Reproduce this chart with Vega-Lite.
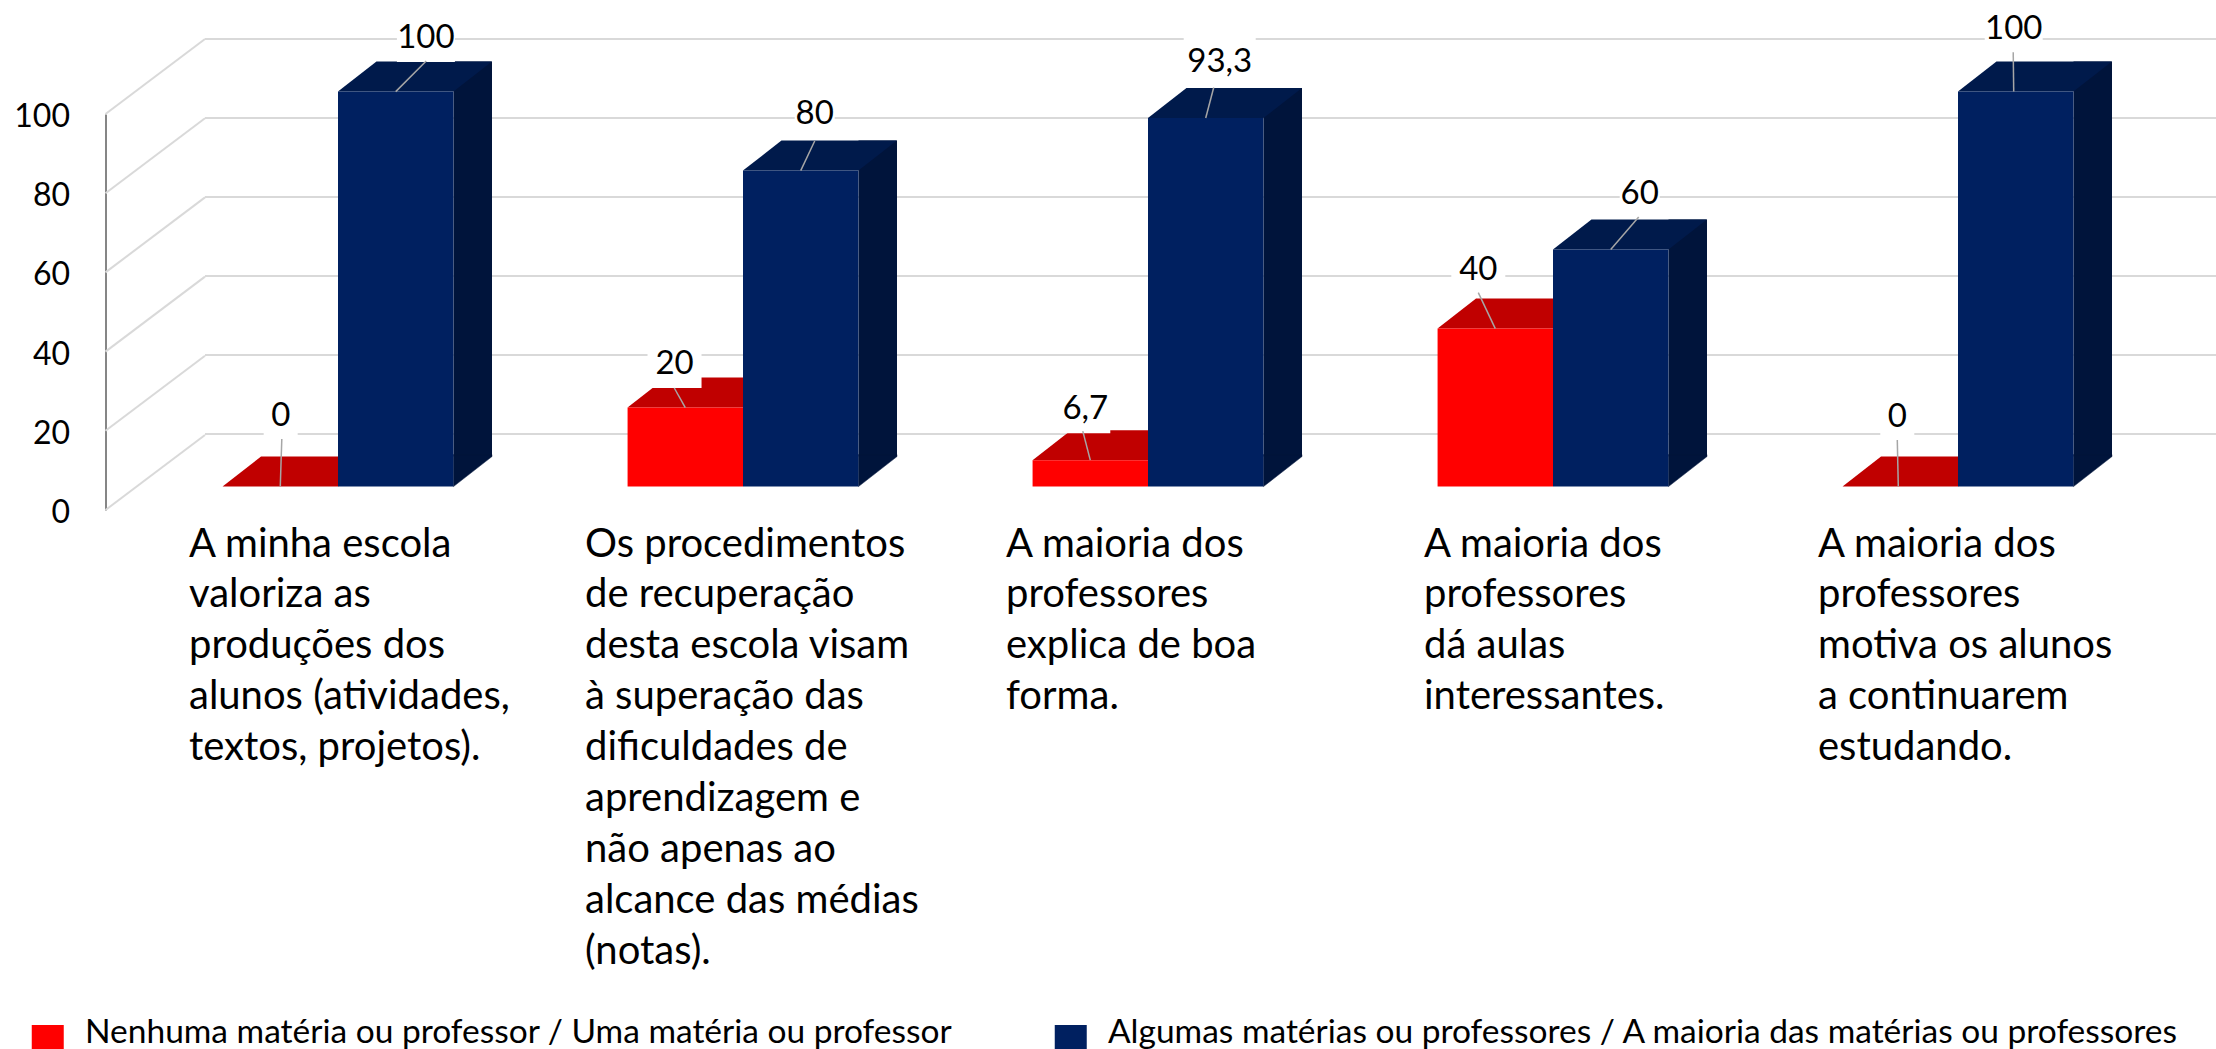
{
"$schema":"https://vega.github.io/schema/vega-lite/v6.json",
"width":2011,"height":1049,"autosize":{"type":"none"},"padding":{"left":205,"top":0,"right":0,"bottom":0},
"background":"white",
"config":{"view":{"stroke":null},"font":"Lato"},
"datasets":{
"marcas":[{"t":0},{"t":20},{"t":40},{"t":60},{"t":80},{"t":100}],
"dados":[
{"item":"P1N","pergunta":"A minha escola\nvaloriza as\nproduções dos\nalunos (atividades,\ntextos, projetos).","serie":"Nenhuma matéria ou professor / Uma matéria ou professor","valor":0,"rotulo":"0"},
{"item":"P2N","pergunta":"Os procedimentos\nde recuperação\ndesta escola visam\nà superação das\ndificuldades de\naprendizagem e\nnão apenas ao\nalcance das médias\n(notas).","serie":"Nenhuma matéria ou professor / Uma matéria ou professor","valor":20,"rotulo":"20"},
{"item":"P3N","pergunta":"A maioria dos\nprofessores\nexplica de boa\nforma.","serie":"Nenhuma matéria ou professor / Uma matéria ou professor","valor":6.7,"rotulo":"6,7"},
{"item":"P4N","pergunta":"A maioria dos\nprofessores\ndá aulas\ninteressantes.","serie":"Nenhuma matéria ou professor / Uma matéria ou professor","valor":40,"rotulo":"40"},
{"item":"P5N","pergunta":"A maioria dos\nprofessores\nmotiva os alunos\na continuarem\nestudando.","serie":"Nenhuma matéria ou professor / Uma matéria ou professor","valor":0,"rotulo":"0"},
{"item":"P1A","pergunta":"A minha escola\nvaloriza as\nproduções dos\nalunos (atividades,\ntextos, projetos).","serie":"Algumas matérias ou professores / A maioria das matérias ou professores","valor":100,"rotulo":"100"},
{"item":"P2A","pergunta":"Os procedimentos\nde recuperação\ndesta escola visam\nà superação das\ndificuldades de\naprendizagem e\nnão apenas ao\nalcance das médias\n(notas).","serie":"Algumas matérias ou professores / A maioria das matérias ou professores","valor":80,"rotulo":"80"},
{"item":"P3A","pergunta":"A maioria dos\nprofessores\nexplica de boa\nforma.","serie":"Algumas matérias ou professores / A maioria das matérias ou professores","valor":93.3,"rotulo":"93,3"},
{"item":"P4A","pergunta":"A maioria dos\nprofessores\ndá aulas\ninteressantes.","serie":"Algumas matérias ou professores / A maioria das matérias ou professores","valor":60,"rotulo":"60"},
{"item":"P5A","pergunta":"A maioria dos\nprofessores\nmotiva os alunos\na continuarem\nestudando.","serie":"Algumas matérias ou professores / A maioria das matérias ou professores","valor":100,"rotulo":"100"}
]},
"resolve":{"scale":{"y":"independent"}},
"layer":[
{"data":{"name":"marcas"},"mark":{"type":"rule","color":"#d9d9d9","strokeWidth":2},
 "encoding":{"y":{"field":"t","type":"quantitative","axis":null,"scale":{"domain":[0,100],"range":[434,39],"nice":false}}}},
{"data":{"name":"marcas"},"mark":{"type":"point","filled":false,"shape":"M0,0L99.5,-75","size":4,"stroke":"#d9d9d9","strokeWidth":2,"opacity":1},
 "encoding":{"x":{"value":-99.5},
  "y":{"field":"t","type":"quantitative","title":null,
   "scale":{"domain":[0,100],"range":[510,114],"nice":false},
   "axis":{"offset":99.5,"grid":false,"ticks":false,"domain":true,"domainColor":"#868686","domainWidth":2,"values":[0,20,40,60,80,100],"labelFont":"Lato","labelFontSize":32,"labelColor":"#000000","labelPadding":36,"labelOffset":2.5,"labelBaseline":"middle"}}}},
{"data":{"name":"dados"},
 "transform":[{"filter":{"field":"serie","equal":"Algumas matérias ou professores / A maioria das matérias ou professores"}}],
 "mark":{"type":"bar","xOffset":134.75,"width":38.5,"fill":"#00143B"},
 "encoding":{
  "x":{"field":"pergunta","type":"nominal","sort":null,"title":null,
   "scale":{"type":"band","range":[-69.5,1955.5],"paddingInner":0.43,"paddingOuter":0.215},
   "axis":{"orient":"bottom","offset":-525,"domain":false,"ticks":false,"grid":false,"labelAngle":0,"labelAlign":"left","labelBaseline":"top","labelFont":"Lato","labelFontSize":40,"labelColor":"#000000","labelLineHeight":50.9,"labelLimit":0,"labelOverlap":false,"labelBound":false,"labelFlush":false,"labelPadding":0,
     "labelExpr":"split(datum.label,'\\n')",
     "encoding":{"labels":{"dx":{"value":{"expr":"[-149,-158,-142,-129,-140][round(datum.index*4)]"}}}}}},
  "y":{"field":"valor","type":"quantitative","axis":null,"scale":{"domain":[0,100],"range":[456.6,61.6],"nice":false}}
 }},
{"data":{"name":"dados"},
 "resolve":{"scale":{"shape":"independent"}},
 "encoding":{
  "x":{"field":"pergunta","type":"nominal","sort":null,"title":null,
   "scale":{"type":"band","range":[-69.5,1955.5],"paddingInner":0.43,"paddingOuter":0.215},
   "axis":{"orient":"bottom","offset":-525,"domain":false,"ticks":false,"grid":false,"labelAngle":0,"labelAlign":"left","labelBaseline":"top","labelFont":"Lato","labelFontSize":40,"labelColor":"#000000","labelLineHeight":50.9,"labelLimit":0,"labelOverlap":false,"labelBound":false,"labelFlush":false,"labelPadding":0,
     "labelExpr":"split(datum.label,'\\n')",
     "encoding":{"labels":{"dx":{"value":{"expr":"[-149,-158,-142,-129,-140][round(datum.index*4)]"}}}}}},
  "xOffset":{"field":"serie","type":"nominal","sort":null,"scale":{"domain":["Nenhuma matéria ou professor / Uma matéria ou professor","Algumas matérias ou professores / A maioria das matérias ou professores"]}},
  "y":{"field":"valor","type":"quantitative","axis":null,"scale":{"domain":[0,100],"range":[486.6,91.6],"nice":false}}
 },
 "layer":[
  {"transform":[{"filter":{"field":"item","oneOf":["P1N","P2N","P3N","P4N","P5N"]}}],
   "mark":{"type":"point","filled":true,"shape":"M-57.75,0L57.75,0L96.25,-30L-19.25,-30Z","size":4,"opacity":1,"fill":"#C00000"}},
  {"transform":[{"filter":{"field":"serie","equal":"Algumas matérias ou professores / A maioria das matérias ou professores"}}],
   "mark":{"type":"point","filled":true,"shape":"M-57.75,0L57.75,0L96.25,-30L-19.25,-30Z","size":4,"opacity":1,"fill":"#001A4B"}},
  {"transform":[{"filter":{"field":"serie","equal":"Algumas matérias ou professores / A maioria das matérias ou professores"}}],
   "mark":{"type":"point","filled":true,"shape":"M57.75,0L96.25,-30L96.25,-32L57.75,-32Z","size":4,"opacity":1,"fill":"#00143B","stroke":"#00143B","strokeWidth":0.5},
   "encoding":{"y":{"datum":0,"type":"quantitative"}}},
  {"mark":{"type":"bar"},
   "encoding":{"color":{"field":"serie","type":"nominal","title":null,
     "scale":{"domain":["Nenhuma matéria ou professor / Uma matéria ou professor","Algumas matérias ou professores / A maioria das matérias ou professores"],"range":["#FF0000","#002060"]},
     "legend":{"orient":"none","legendX":-174,"legendY":1016,"direction":"horizontal","columns":2,"title":null,"symbolType":"M-16,-8L16,-8L16,17L-16,17Z","symbolSize":4,"symbolStrokeWidth":0,"symbolOpacity":1,"labelOffset":20.5,"labelFont":"Lato","labelFontSize":33.5,"labelColor":"#000000","labelLimit":2000,"columnPadding":101}}}},
  {"mark":{"type":"point","filled":true,"size":4,"opacity":1,"fill":"white"},
   "encoding":{"shape":{"field":"item","type":"nominal","legend":null,"scale":{"domain":["P1N","P1A","P2N","P2A","P3N","P3A","P4N","P4A","P5N","P5A"],
     "range":["M-16.6,-98.6L17.4,-98.6L17.4,-46.6L-16.6,-46.6Z","M1.2,-81.6L59.2,-81.6L59.2,-29.6L1.2,-29.6Z","M-37.75,-71.6L16.25,-71.6L16.25,-19.6L-37.75,-19.6Z","M-6,-84.6L34,-84.6L34,-32.6L-6,-32.6Z","M-30,-79L20,-79L20,-27L-30,-27Z","M-22,-83.3L50,-83.3L50,-31.3L-22,-31.3Z","M-44,-86.6L10,-86.6L10,-34.6L-44,-34.6Z","M9,-83.8L49,-83.8L49,-31.8L9,-31.8Z","M-20,-97.6L14,-97.6L14,-45.6L-20,-45.6Z","M-31,-91L27,-91L27,-39L-31,-39Z"]}}}},
  {"mark":{"type":"point","filled":false,"size":4,"opacity":1,"stroke":"#A6A6A6","strokeWidth":1.5},
   "encoding":{"shape":{"field":"item","type":"nominal","legend":null,"scale":{"domain":["P1N","P1A","P2N","P2A","P3N","P3A","P4N","P4A","P5N","P5A"],
     "range":["M0,0L1.5,-47.6","M0,0L30.5,-30.6","M0,0L-11,-19.6","M0,0L14,-29.6","M0,0L-7.5,-29","M0,0L8,-30.5","M0,0L-17,-36","M0,0L28,-32.6","M-2,0L-3,-46.6","M-2,0L-2.5,-39.3"]}}}},
  {"transform":[{"filter":{"field":"item","equal":"P1N"}}],"mark":{"type":"text","dx":0.4,"dy":-71,"font":"Lato","fontSize":33,"color":"#000000","baseline":"middle"},"encoding":{"text":{"field":"rotulo"}}},
  {"transform":[{"filter":{"field":"item","equal":"P1A"}}],"mark":{"type":"text","dx":30.2,"dy":-53.6,"font":"Lato","fontSize":33,"color":"#000000","baseline":"middle"},"encoding":{"text":{"field":"rotulo"}}},
  {"transform":[{"filter":{"field":"item","equal":"P2N"}}],"mark":{"type":"text","dx":-10.75,"dy":-44,"font":"Lato","fontSize":33,"color":"#000000","baseline":"middle"},"encoding":{"text":{"field":"rotulo"}}},
  {"transform":[{"filter":{"field":"item","equal":"P2A"}}],"mark":{"type":"text","dx":14,"dy":-56.6,"font":"Lato","fontSize":33,"color":"#000000","baseline":"middle"},"encoding":{"text":{"field":"rotulo"}}},
  {"transform":[{"filter":{"field":"item","equal":"P3N"}}],"mark":{"type":"text","dx":-5,"dy":-51.5,"font":"Lato","fontSize":33,"color":"#000000","baseline":"middle"},"encoding":{"text":{"field":"rotulo"}}},
  {"transform":[{"filter":{"field":"item","equal":"P3A"}}],"mark":{"type":"text","dx":14,"dy":-56.5,"font":"Lato","fontSize":33,"color":"#000000","baseline":"middle"},"encoding":{"text":{"field":"rotulo"}}},
  {"transform":[{"filter":{"field":"item","equal":"P4N"}}],"mark":{"type":"text","dx":-17,"dy":-58.6,"font":"Lato","fontSize":33,"color":"#000000","baseline":"middle"},"encoding":{"text":{"field":"rotulo"}}},
  {"transform":[{"filter":{"field":"item","equal":"P4A"}}],"mark":{"type":"text","dx":29,"dy":-55.8,"font":"Lato","fontSize":33,"color":"#000000","baseline":"middle"},"encoding":{"text":{"field":"rotulo"}}},
  {"transform":[{"filter":{"field":"item","equal":"P5N"}}],"mark":{"type":"text","dx":-3,"dy":-70,"font":"Lato","fontSize":33,"color":"#000000","baseline":"middle"},"encoding":{"text":{"field":"rotulo"}}},
  {"transform":[{"filter":{"field":"item","equal":"P5A"}}],"mark":{"type":"text","dx":-2,"dy":-63,"font":"Lato","fontSize":33,"color":"#000000","baseline":"middle"},"encoding":{"text":{"field":"rotulo"}}}
 ]}
]}
